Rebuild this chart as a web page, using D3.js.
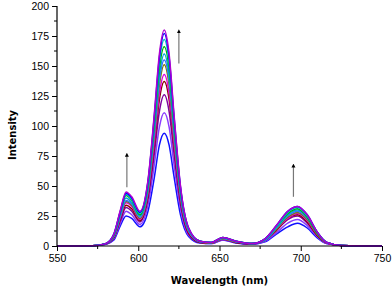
<!DOCTYPE html>
<html>
<head>
<meta charset="utf-8">
<title></title>
<script src="https://cdn.jsdelivr.net/npm/d3@7/dist/d3.min.js"></script>
<style>
body { margin: 0; background: #fff; }
</style>
</head>
<body>
<script>
// wavelengths (nm) sampled on every curve
const wavelengths = [550, 572, 580, 585, 589, 592.5, 596, 601, 606, 610, 613, 616, 619, 622, 626, 631, 638, 645, 652, 660, 670, 678, 685, 692, 698, 704, 710, 716, 725, 750]

// intensity of each spectrum, top to bottom
const s1  = [0, 0.3, 2, 10, 30, 45, 41, 29, 55, 112, 160, 180, 160, 110, 50, 15, 4, 3, 7, 4, 2, 6, 17, 29, 33, 26, 12, 3, 0.5, 0]
const s2  = [0, 0.3, 2, 10, 29, 44, 40, 28, 54, 110, 157, 177, 157, 108, 49, 15, 4, 3, 7, 4, 2, 6, 17, 29, 33, 26, 12, 3, 0.5, 0]
const s3  = [0, 0.3, 2, 10, 29, 43, 39, 27, 53, 107, 153, 172, 153, 105, 48, 14, 4, 3, 7, 4, 2, 6, 16, 28, 32, 25, 12, 3, 0.5, 0]
const s4  = [0, 0.3, 2, 9, 28, 42, 38, 26, 51, 103, 148, 166, 148, 101, 46, 14, 4, 3, 7, 4, 2, 6, 16, 27, 31, 24, 11, 3, 0.5, 0]
const s5  = [0, 0.3, 2, 9, 27, 40, 36, 25, 49, 100, 142, 160, 142, 98, 44, 13, 4, 3, 6.5, 4, 2, 5, 15, 26, 30, 24, 11, 3, 0.5, 0]
const s6  = [0, 0.3, 2, 8, 25, 38, 35, 24, 47, 96, 138, 155, 138, 95, 43, 13, 3.5, 3, 6.5, 3.5, 2, 5, 15, 25, 29, 23, 11, 3, 0.5, 0]
const s7  = [0, 0.3, 2, 8, 25, 37, 34, 23, 46, 94, 134, 151, 134, 92, 42, 13, 3.5, 2.5, 6, 3.5, 2, 5, 14, 24, 28, 22, 10, 3, 0.5, 0]
const s8  = [0, 0.3, 2, 8, 24, 36, 33, 22, 44, 89, 127, 143, 127, 87, 40, 12, 3.5, 2.5, 6, 3.5, 2, 5, 14, 23, 27, 21, 10, 2.5, 0.5, 0]
const s9  = [0, 0.3, 2, 7, 23, 34, 31, 21, 42, 85, 122, 137, 122, 84, 38, 11, 3, 2.5, 6, 3, 2, 5, 13, 23, 26, 20, 9, 2.5, 0.5, 0]
const s10 = [0, 0.3, 1.5, 7, 21, 32, 29, 20, 39, 78, 112, 126, 112, 77, 35, 10, 3, 2.5, 5.5, 3, 1.5, 4.5, 13, 22, 25, 19, 9, 2.5, 0.5, 0]
const s11 = [0, 0.3, 1.5, 6, 19, 29, 26, 18, 34, 69, 99, 111, 99, 68, 31, 9, 3, 2, 5, 3, 1.5, 4, 11, 19, 22, 17, 8, 2, 0.5, 0]
const s12 = [0, 0.3, 1.5, 5, 17, 25, 23, 16, 29, 58, 84, 94, 84, 58, 26, 8, 2.5, 2, 5, 2.5, 1.5, 3.5, 10, 16, 19, 15, 7, 2, 0.5, 0]

const series = [s12, s11, s10, s9, s8, s7, s6, s5, s4, s3, s2, s1]
const colors = ['#1010ff', '#8a3cff', '#8000a0', '#8b0000', '#e000e0', '#808000', '#3a6cff', '#00a0e0', '#00b000', '#00c8c8', '#0000ff', '#b000d0']

const xTicks = [550, 600, 650, 700, 750]
const xMinor = [575, 625, 675, 725]
const yTicks = [0, 25, 50, 75, 100, 125, 150, 175, 200]
const yMinor = [12.5, 37.5, 62.5, 87.5, 112.5, 137.5, 162.5, 187.5]

// arrows: [wavelength, from, to]
const arrows = [[593, 49, 76], [625, 152, 179], [695.5, 41, 67]]

const width = 392
const height = 289
const margin = { top: 6, right: 10, bottom: 43, left: 57 }

const svg = d3.select('body').append('svg')
    .attr('width', width)
    .attr('height', height)
    .style('font-family', 'Liberation Sans, Arial, sans-serif')

const x = d3.scaleLinear().domain([550, 750]).range([margin.left, width - margin.right])
const y = d3.scaleLinear().domain([0, 200]).range([height - margin.bottom, margin.top])

const line = d3.line()
    .x((d, i) => x(wavelengths[i]))
    .y(d => y(d))
    .curve(d3.curveMonotoneX)

// spectra
svg.append('g')
  .selectAll('path')
  .data(series)
  .join('path')
    .attr('d', line)
    .attr('fill', 'none')
    .attr('stroke', (d, i) => colors[i])
    .attr('stroke-width', 1.5)

// axes
const xAxis = svg.append('g')
    .attr('transform', `translate(0,${y(0)})`)
    .call(d3.axisBottom(x).tickValues(xTicks).tickSize(5).tickPadding(4).tickFormat(d3.format('d')))
xAxis.append('g').selectAll('line').data(xMinor).join('line')
    .attr('x1', d => x(d)).attr('x2', d => x(d))
    .attr('y1', 0).attr('y2', 3)
    .attr('stroke', '#000')

const yAxis = svg.append('g')
    .attr('transform', `translate(${x(550)},0)`)
    .call(d3.axisLeft(y).tickValues(yTicks).tickSize(5).tickPadding(3))
yAxis.append('g').selectAll('line').data(yMinor).join('line')
    .attr('x1', 0).attr('x2', -3)
    .attr('y1', d => y(d)).attr('y2', d => y(d))
    .attr('stroke', '#000')

svg.selectAll('.domain').attr('stroke', '#000').attr('stroke-width', 1.2)
svg.selectAll('.tick text').attr('font-size', 10.5).attr('fill', '#000')
xAxis.select('.domain').attr('d', `M${x(550)},0H${x(750)}`)
yAxis.select('.domain').attr('d', `M0,${y(200)}V${y(0)}`)

// arrows
const defs = svg.append('defs')
defs.append('marker')
    .attr('id', 'head')
    .attr('viewBox', '0 0 10 10')
    .attr('refX', 5).attr('refY', 5)
    .attr('markerWidth', 4).attr('markerHeight', 6)
    .attr('markerUnits', 'userSpaceOnUse')
    .attr('orient', 'auto')
  .append('path')
    .attr('d', 'M0,0L10,5L0,10Z')
    .attr('fill', '#000')

svg.append('g').selectAll('line').data(arrows).join('line')
    .attr('x1', d => x(d[0])).attr('x2', d => x(d[0]))
    .attr('y1', d => y(d[1])).attr('y2', d => y(d[2]))
    .attr('stroke', '#777')
    .attr('stroke-width', 1.2)
    .attr('marker-end', 'url(#head)')

// axis titles
svg.append('text')
    .attr('x', (x(550) + x(750)) / 2)
    .attr('y', 284)
    .attr('text-anchor', 'middle')
    .attr('font-family', 'DejaVu Sans, sans-serif')
    .attr('font-weight', 'bold')
    .attr('font-size', 10)
    .text('Wavelength (nm)')

svg.append('text')
    .attr('transform', 'translate(16,135) rotate(-90)')
    .attr('text-anchor', 'middle')
    .attr('font-family', 'DejaVu Sans, sans-serif')
    .attr('font-weight', 'bold')
    .attr('font-size', 10)
    .text('Intensity')
</script>
</body>
</html>
